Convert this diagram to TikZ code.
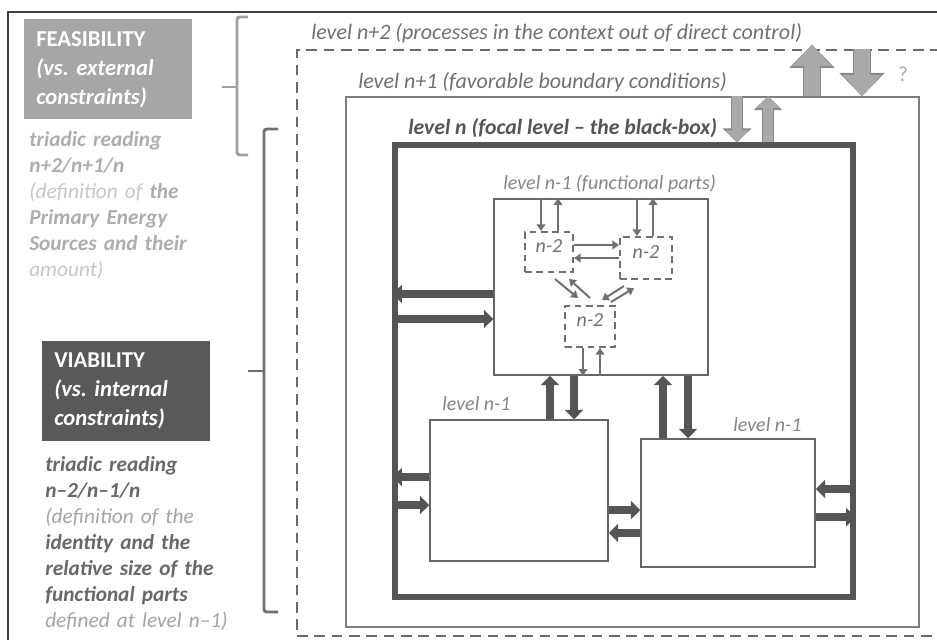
\documentclass[tikz,border=0pt]{standalone}
\usepackage{fontspec}
\setmainfont{Carlito}
\usetikzlibrary{arrows.meta, fit, calc}
\definecolor{frameline}{HTML}{404040}
\definecolor{feas}{HTML}{A6A6A6}
\definecolor{viab}{HTML}{595959}
\definecolor{feastxt}{HTML}{ADADAD}
\definecolor{feaslight}{HTML}{C6C6C6}
\definecolor{viabtxt}{HTML}{686868}
\definecolor{viablight}{HTML}{A4A4A4}
\definecolor{boxline}{HTML}{555555}
\definecolor{partline}{HTML}{666666}
\definecolor{lbl}{HTML}{707070}
\definecolor{bigfill}{HTML}{A9A9A9}
\definecolor{bigline}{HTML}{888888}

\begin{document}
\begin{tikzpicture}[x=0.75pt, y=-0.75pt, every node/.style={inner sep=0pt},
  headbox/.style={fill=#1, text=white, anchor=north west, align=left,
    minimum width=126pt, minimum height=75pt, text width=108pt, inner xsep=9pt,
    font=\fontsize{17}{21.75}\selectfont\bfseries},
  readtext/.style={anchor=base west, align=left, text width=150pt,
    font=\fontsize{16}{19.5}\selectfont\itshape\bfseries},
  lvltext/.style={anchor=base west, text=lbl, font=\fontsize{16.5}{18}\selectfont\itshape},
  parttext/.style={anchor=base west, text=lbl!85, font=\fontsize{15}{18}\selectfont\itshape},
  partbox/.style={draw=partline, line width=1.1pt},
  subbox/.style={draw=lbl, line width=1.5pt, dash pattern=on 5pt off 3.5pt},
  brace/.style={line width=2.2pt, rounded corners=2pt},
  flow/.style={draw=boxline, line width=5.8pt, -{Triangle[width=13.5pt,length=7pt]}},
  tiny/.style={draw=lbl, line width=1.5pt, -{Triangle[width=6.5pt,length=5pt]}},
  bigflow/.style={draw=bigfill, line width=12pt, -{Triangle[width=28pt,length=16pt]},
    preaction={draw=bigline, line width=14pt, -{Triangle[width=33pt,length=17.5pt]}}},
  midflow/.style={draw=bigfill, line width=7pt, -{Triangle[width=17pt,length=9pt]},
    preaction={draw=bigline, line width=8.6pt, -{Triangle[width=21pt,length=10.5pt]}}}]
  \useasboundingbox (0,0) rectangle (937,640);

  % frame of the figure
  \draw[frameline, line width=1.1pt] (8,640) -- (8,12) -- (937,12);

  % left panel
  \node[headbox=feas] (feasbox) at (24,19) {FEASIBILITY\\\itshape(vs.\ external\\constraints)};
  \node[readtext, text=feastxt] (feasread) at (29,146)
    {triadic reading\\n+2/n+1/n\\{\mdseries\color{feaslight}(definition of} the\\
     Primary Energy\\Sources and their\\{\mdseries\color{feaslight}amount)}};
  \node[headbox=viab] (viabbox) at (42,341) {VIABILITY\\\itshape(vs.\ internal\\constraints)};
  \node[readtext, text=viabtxt] (viabread) at (45,471)
    {triadic reading\\n–2/n–1/n\\{\mdseries\color{viablight}(definition of the}\\
     identity and the\\relative size of the\\functional parts\\
     {\mdseries\color{viablight}defined at level n–1)}};

  % braces
  \draw[brace, bigline!80] (248,17) -- (237,17) -- (237,155) -- (248,155);
  \draw[brace, bigline!80] (222,87) -- (237,87);
  \draw[brace, lbl] (278,129) -- (264,129) -- (264,612) -- (278,612);
  \draw[brace, lbl] (248,371) -- (264,371);

  % nested levels
  \node[fit={(297,50) (950,636)}, draw=lbl!95!black, line width=2.2pt, dash pattern=on 8pt off 5pt] (lvltwo) {};
  \node[fit={(346,97) (919,627)}, draw=lbl!90, line width=1.2pt] (lvlone) {};
  \node[fit={(395,145) (853,597)}, draw=boxline, line width=3.8pt] (lvlnode) {};
  \node[lvltext] (lbltwo) at (311,39) {level n+2 (processes in the context out of direct control)};
  \node[lvltext] (lblone) at (358,88) {level n+1 (favorable boundary conditions)};
  \node[lvltext, text=boxline, font=\fontsize{16.3}{18}\selectfont\itshape\bfseries] (lbln) at (408,134)
    {level n (focal level – the black-box)};
  \node[text=bigfill, font=\fontsize{16}{18}\selectfont] (quest) at (903,74) {?};

  % functional parts
  \node[fit={(494,199) (708,375)}, partbox] (fparts) {};
  \node[fit={(430,420) (608,561)}, partbox] (leftpart) {};
  \node[fit={(641,439) (815,567)}, partbox] (rightpart) {};
  \node[parttext] at (503,189) {level n-1 (functional parts)};
  \node[parttext] at (442,410) {level n-1};
  \node[parttext] at (733,431) {level n-1};

  % n-2 subsystems
  \node[fit={(525,232) (573,272)}, subbox, lbl, font=\fontsize{15}{18}\selectfont\itshape] (suba) {n-2};
  \node[fit={(620,237) (672,279)}, subbox, lbl, font=\fontsize{15}{18}\selectfont\itshape] (subb) {n-2};
  \node[fit={(565,306) (615,347)}, subbox, lbl, font=\fontsize{15}{18}\selectfont\itshape] (subc) {n-2};

  % exchanges with the context
  \draw[bigflow] (lvlone.north -| 812,0) -- ([yshift=3pt]lvltwo.north -| 812,0);
  \draw[bigflow] (lvltwo.north -| 862,0) -- (lvlone.north -| 862,0);
  \draw[midflow] (lvlone.north -| 737,0) -- (lvlnode.north -| 737,0);
  \draw[midflow] (lvlnode.north -| 768,0) -- (lvlone.north -| 768,0);

  % flows between the parts
  \draw[flow] (fparts.west |- 0,294) -- (lvlnode.west |- 0,294);
  \draw[flow] (lvlnode.west |- 0,319) -- (fparts.west |- 0,319);
  \draw[flow] (leftpart.west |- 0,477) -- (lvlnode.west |- 0,477);
  \draw[flow] (lvlnode.west |- 0,505) -- (leftpart.west |- 0,505);
  \draw[flow] (leftpart.east |- 0,510) -- (rightpart.west |- 0,510);
  \draw[flow] (rightpart.west |- 0,533) -- (leftpart.east |- 0,533);
  \draw[flow] (lvlnode.east |- 0,489) -- (rightpart.east |- 0,489);
  \draw[flow] (rightpart.east |- 0,517) -- (lvlnode.east |- 0,517);
  \draw[flow] (leftpart.north -| 550,0) -- (fparts.south -| 550,0);
  \draw[flow] (fparts.south -| 574,0) -- (leftpart.north -| 574,0);
  \draw[flow] (rightpart.north -| 663,0) -- (fparts.south -| 663,0);
  \draw[flow] (fparts.south -| 688,0) -- (rightpart.north -| 688,0);

  % flows between the n-2 subsystems
  \draw[tiny] (fparts.north -| 541,0) -- (suba.north -| 541,0);
  \draw[tiny] (suba.north -| 558,0) -- (fparts.north -| 558,0);
  \draw[tiny] (fparts.north -| 637,0) -- (subb.north -| 637,0);
  \draw[tiny] (subb.north -| 653,0) -- (fparts.north -| 653,0);
  \draw[tiny] (suba.east |- 0,245) -- (subb.west |- 0,245);
  \draw[tiny] (subb.west |- 0,258) -- (suba.east |- 0,258);
  \draw[tiny] ([shift={(6,6)}]suba.south) -- ([shift={(-12,-7)}]subc.north);
  \draw[tiny] ([shift={(0,-7)}]subc.north) -- ([shift={(20,6)}]suba.south);
  \draw[tiny] ([shift={(-22,6)}]subb.south) -- ([shift={(12,-5)}]subc.north);
  \draw[tiny] ([shift={(21,-3)}]subc.north) -- ([shift={(-12,8)}]subb.south);
  \draw[tiny] (subc.south -| 583,0) -- (fparts.south -| 583,0);
  \draw[tiny] (fparts.south -| 600,0) -- (subc.south -| 600,0);
\end{tikzpicture}
\end{document}
